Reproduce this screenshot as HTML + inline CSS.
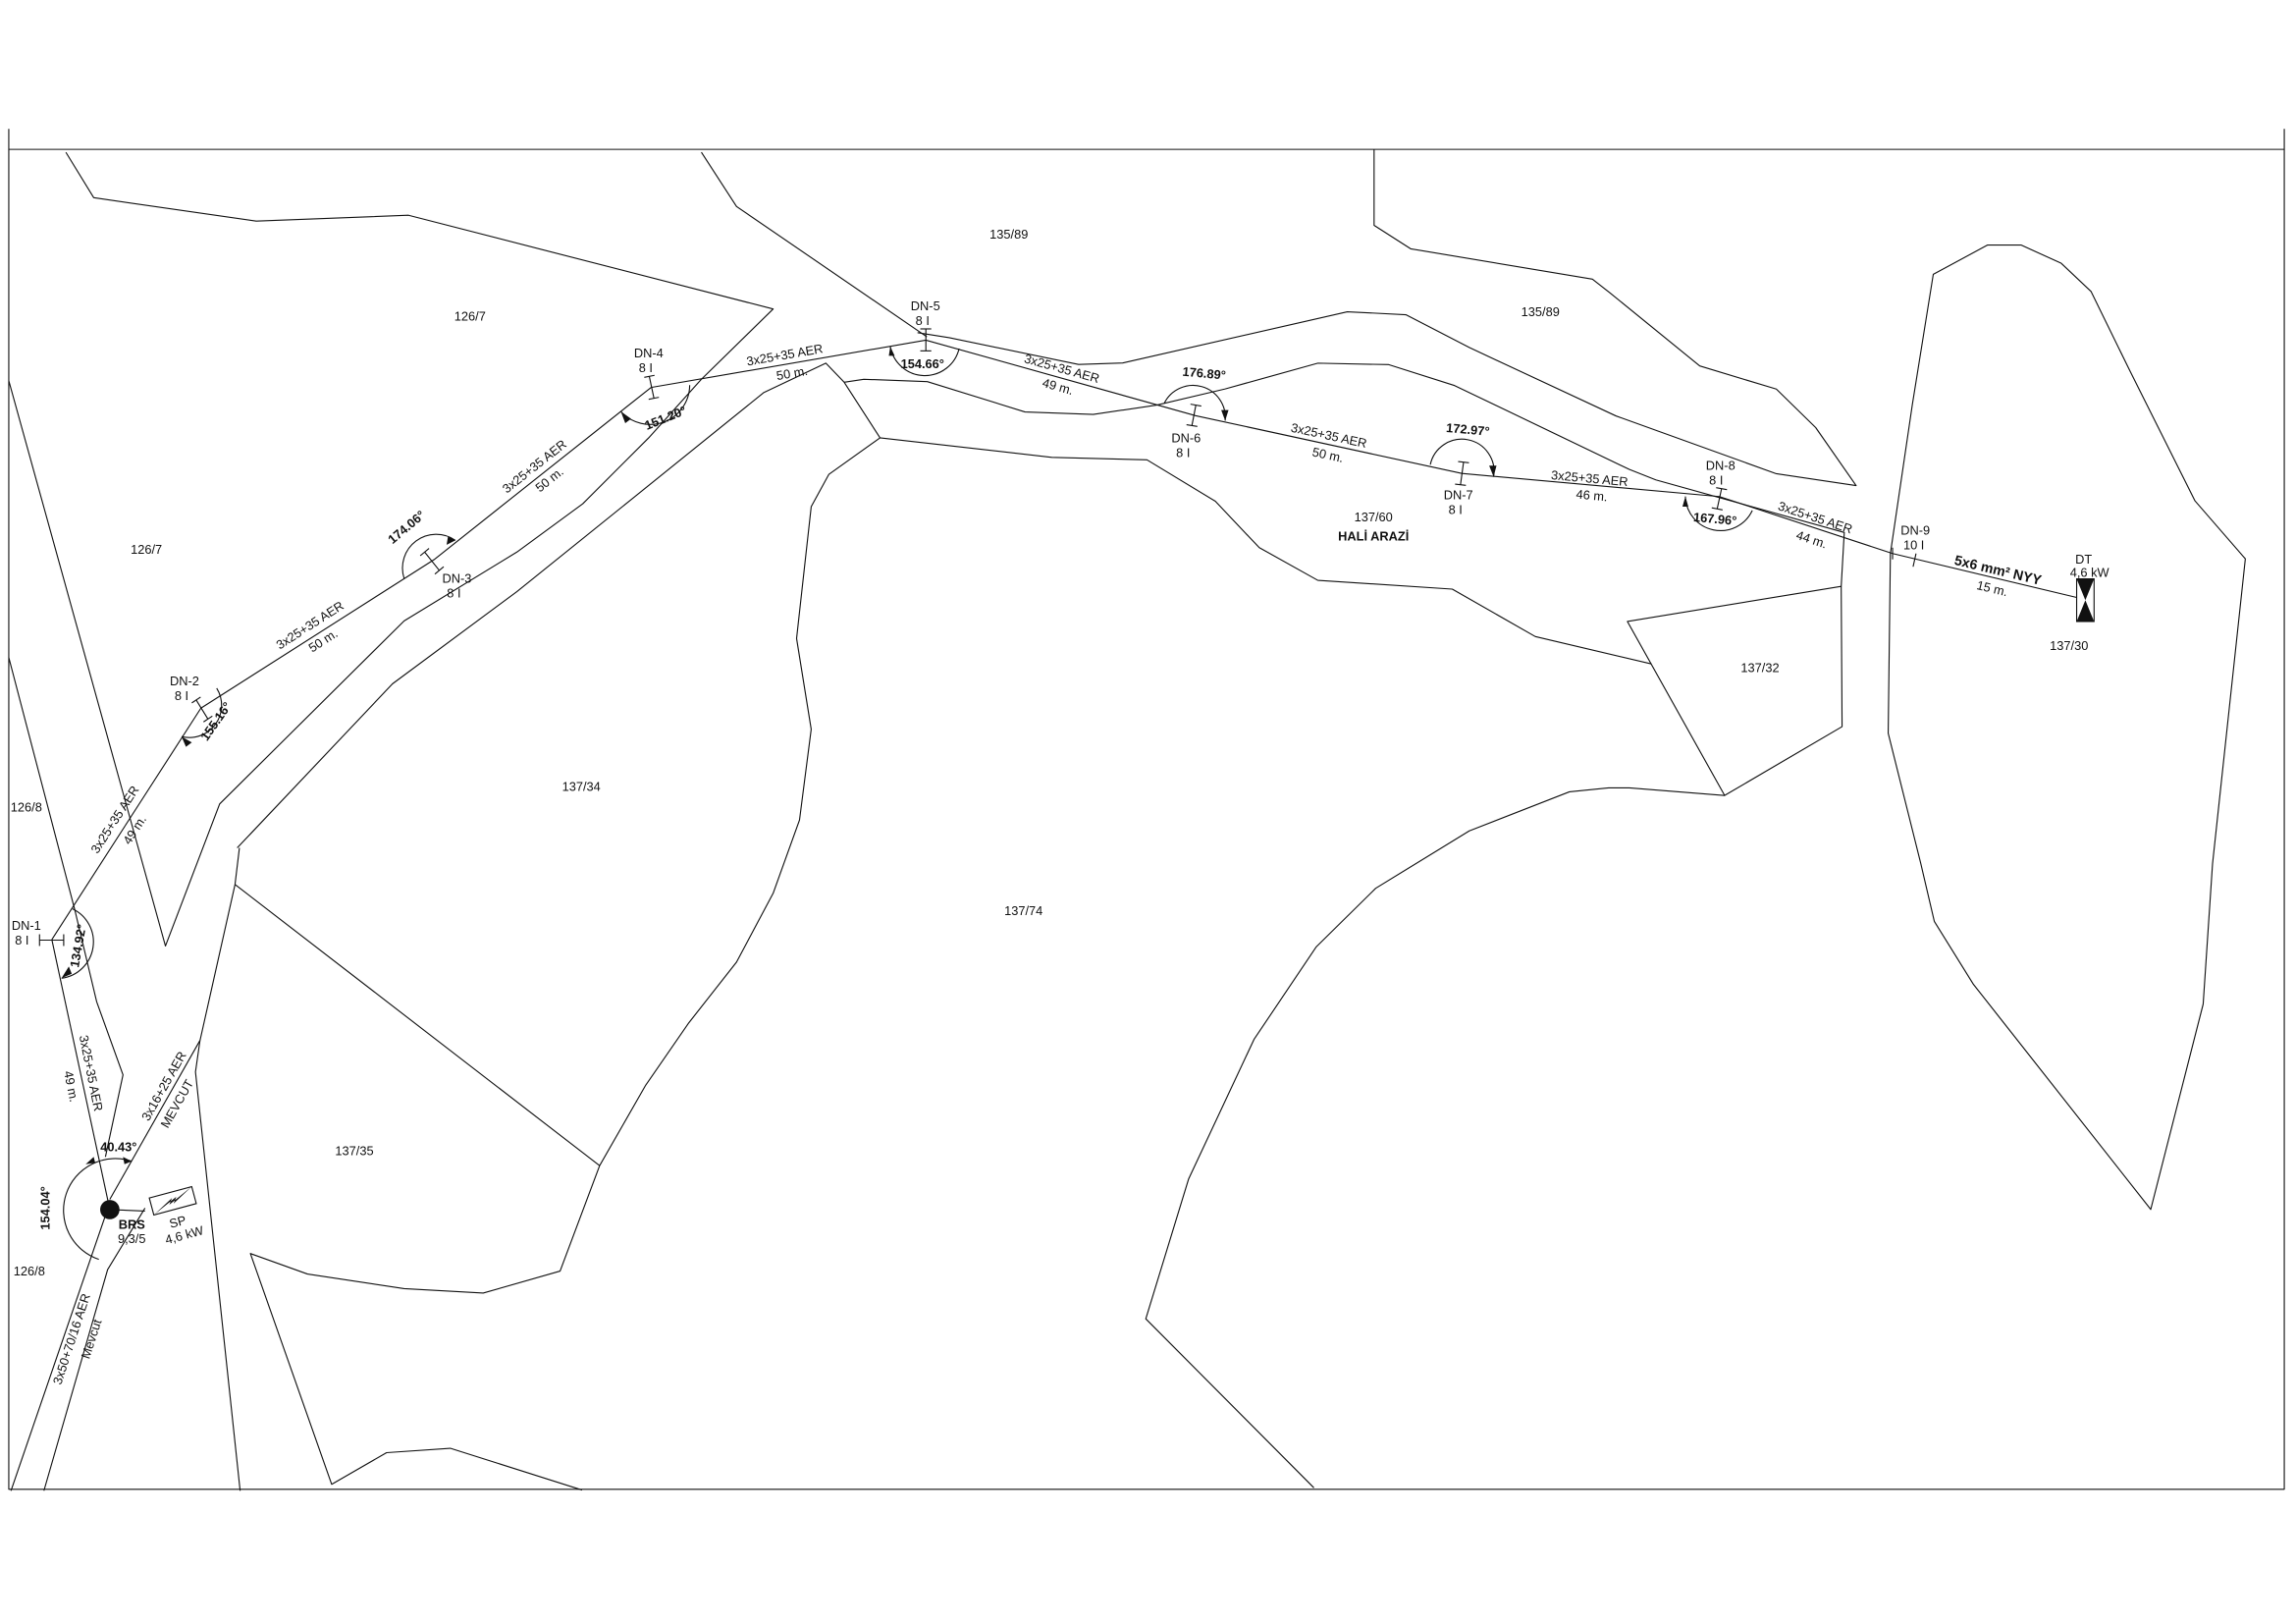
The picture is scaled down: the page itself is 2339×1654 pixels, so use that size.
<!DOCTYPE html>
<html><head><meta charset="utf-8"><style>
html,body{margin:0;padding:0;background:#fff;}
svg{display:block;}
text{font-family:"Liberation Sans",sans-serif;font-size:8.6px;fill:#111;}
.b{font-weight:bold;}
</style></head><body>
<svg width="2339" height="1654" viewBox="0 0 1568 1109" preserveAspectRatio="none" xmlns="http://www.w3.org/2000/svg">
<rect x="0" y="0" width="1568" height="1109" fill="#fff"/>
<g fill="none" stroke="#111" stroke-width="0.75" stroke-linejoin="round">
<!-- frame -->
<rect x="6" y="102" width="1554" height="915"/>
<line x1="6" y1="88" x2="6" y2="102"/><line x1="1560" y1="88" x2="1560" y2="102"/>
<!-- parcels -->
<polyline points="45,104 64,135 175,151 279,147 528,211 479,259 443,299 398,344 353,377 276,424 150,549 113,646 6,260"/>
<polyline points="6,449 51,621 66,684 84,734 72,790"/>
<polyline points="479,104 503,141 633,230"/>
<polyline points="163.5,579 160.5,604 136.5,711 133.5,732 164,1018"/>
<polyline points="162,579 268,467 353,404 430,342 521.7,268 564,248 576.5,261 601,299"/>
<polyline points="576.5,261 589.9,259 633.3,260.6 700,281.3 746.6,283 790,276.6 836.7,265.6 900,248 948.4,249 993.4,263.3 1112.8,320.6 1130.8,327.7 1259.5,363.6 1257.4,400.4 1258,496.2 1177.8,543.2 1111.4,424.4 1257.4,400.4"/>
<polyline points="626.6,227.2 648.3,230.6 736.6,248.9 766.7,247.9 920.1,212.9 960.1,214.9 1003.4,237.3 1103.5,284 1213.1,323.5 1267.6,331.6 1240,292 1213.1,265.7 1160.8,249.9 1099.4,199.9 1087.5,190.6 963.4,169.9 938.4,153.9 938.4,102"/>
<polyline points="601,299 718.3,312.3 783.3,314 830,342.3 860,374 900,396.3 991.8,402.3 1048.5,434.7 1127.8,453.4"/>
<polyline points="601,299 566,324 554,346 544,436 554,498 546,560 528,610 503,657 470,699 441,741 409.5,796 382.5,868 330,883 276,880 210,870 171,856 226.5,1013.6 264,992 307.5,989 397.5,1017.5"/>
<line x1="160.5" y1="604" x2="409.5" y2="796"/>
<polyline points="1177.8,543.2 1112.8,538 1098.5,538 1071.8,540.7 1003.4,567.4 939.5,606.6 898.8,646.7 856.4,709.8 811.7,805.2 782.5,900.6 897.3,1016"/>
<polygon points="1289.5,500.7 1291,378 1306,276.2 1320.3,187.3 1357.4,167.3 1380.2,167.3 1407.7,179.8 1428,199 1454.1,252.3 1499,342 1533.4,381.6 1511,589.9 1504.6,685.7 1468.8,825.9 1347.5,671.9 1321,629.2 1311.8,589.9"/>
<!-- lower left lines -->
<line x1="72" y1="830" x2="7.5" y2="1018"/>
<polyline points="30,1018 73.5,867 99,825"/>
<line x1="75" y1="826" x2="99" y2="827"/>
<!-- cables -->
<polyline points="35.4,641.6 137.2,483.6 296.4,382.2 444.6,264.6 632.3,232.3 816.7,283.9 998.4,323.3 1174.2,339.1 1292.5,378 1418.2,408"/>
<line x1="35.4" y1="641.6" x2="75" y2="826"/>
<line x1="75" y1="819" x2="136.5" y2="710.6"/>
<!-- poles -->
<line x1="27" y1="642" x2="43.5" y2="642"/><line x1="27" y1="638" x2="27" y2="646"/><line x1="43.5" y1="638" x2="43.5" y2="646"/>
<line x1="134" y1="478" x2="142" y2="491"/><line x1="131" y1="480" x2="137" y2="476"/><line x1="139" y1="493" x2="145" y2="489"/>
<line x1="290" y1="377" x2="300" y2="389.5"/><line x1="287" y1="379.5" x2="293" y2="374.5"/><line x1="297" y1="392" x2="303" y2="387"/>
<line x1="443.4" y1="257" x2="446.6" y2="272"/><line x1="440" y1="257.7" x2="447" y2="256.3"/><line x1="443" y1="272.7" x2="450" y2="271.3"/>
<line x1="632.3" y1="224.6" x2="632.3" y2="239.6"/><line x1="628.5" y1="224.6" x2="636" y2="224.6"/><line x1="628.5" y1="239.6" x2="636" y2="239.6"/>
<line x1="816.7" y1="276.6" x2="814" y2="290.6"/><line x1="813" y1="276" x2="820.4" y2="277.3"/><line x1="810.3" y1="290" x2="817.7" y2="291.2"/>
<line x1="999.5" y1="315.6" x2="997.4" y2="331"/><line x1="995.8" y1="315.2" x2="1003.2" y2="316"/><line x1="993.7" y1="330.6" x2="1001.1" y2="331.4"/>
<line x1="1175.7" y1="333.7" x2="1172.7" y2="347.5"/><line x1="1172" y1="333" x2="1179.4" y2="334.4"/><line x1="1169" y1="346.8" x2="1176.4" y2="348.2"/>
<line x1="1308.5" y1="378" x2="1306.5" y2="387"/><line x1="1292.5" y1="374" x2="1292.5" y2="382"/>
<!-- arcs -->
<path d="M49.5,620.6 A25,25 0 0,1 42,668"/>
<path d="M148,470 A22,22 0 0,1 124,503"/>
<path d="M276,395 A23,23 0 0,1 311,369"/>
<path d="M424,281 A27,27 0 0,0 471,263"/>
<path d="M608,236.6 A24,24 0 0,0 655,238"/>
<path d="M795,275.6 A22,22 0 0,1 836.7,287.3"/>
<path d="M976.8,317.3 A22,22 0 0,1 1020,325.6"/>
<path d="M1151,339 A24,24 0 0,0 1196.7,348.6"/>
<path d="M67.5,860 A35,35 0 1,1 90,793"/>
</g>
<!-- arrowheads -->
<g fill="#111">
<polygon points="42,668 47,660 49,665"/>
<polygon points="124,503 131,507 127,510"/>
<polygon points="311,369 305,372 306,366"/>
<polygon points="424,281 431,286 427,289"/>
<polygon points="608,236.6 611,243 607,243"/>
<polygon points="836.7,287.3 834,280 839,280"/>
<polygon points="1020,325.6 1017,318 1022,318"/>
<polygon points="1151,339 1149,346 1153,346"/>
<polygon points="58.5,795 64,790 65,794"/>
<polygon points="90,793 84,790 85,795"/>
<circle cx="75" cy="826" r="6.6"/>
<!-- DT -->
<rect x="1418.2" y="395.3" width="11.9" height="29.1" fill="#fff" stroke="#111" stroke-width="0.75"/>
<polygon points="1418.2,395.3 1430.1,395.3 1418.2,424.4 1430.1,424.4"/>
<!-- SP -->
<g transform="translate(118,820) rotate(-15)">
<rect x="-15" y="-6" width="30" height="12" fill="#fff" stroke="#111" stroke-width="0.75"/>
<polygon points="-15,6 3,-2 0,2 15,-6 -3,2 0,-2"/>
</g>
</g>
<!-- parcel labels -->
<g text-anchor="middle">
<text x="689" y="163">135/89</text>
<text x="321" y="219">126/7</text>
<text x="1052" y="216">135/89</text>
<text x="100" y="378">126/7</text>
<text x="938" y="356">137/60</text>
<text x="938" y="369" class="b">HALİ ARAZİ</text>
<text x="1202" y="459">137/32</text>
<text x="1413" y="444">137/30</text>
<text x="397" y="540">137/34</text>
<text x="18" y="554">126/8</text>
<text x="699" y="625">137/74</text>
<text x="242" y="789">137/35</text>
<text x="20" y="871">126/8</text>
<!-- DN labels -->
<text x="18" y="635">DN-1</text><text x="15" y="645">8 I</text>
<text x="126" y="468">DN-2</text><text x="124" y="478">8 I</text>
<text x="312" y="398">DN-3</text><text x="310" y="408">8 I</text>
<text x="443" y="244">DN-4</text><text x="441" y="254">8 I</text>
<text x="632" y="212">DN-5</text><text x="630" y="222">8 I</text>
<text x="810" y="302">DN-6</text><text x="808" y="312">8 I</text>
<text x="996" y="341">DN-7</text><text x="994" y="351">8 I</text>
<text x="1175" y="321">DN-8</text><text x="1172" y="331">8 I</text>
<text x="1308" y="365">DN-9</text><text x="1307" y="375">10 I</text>
<text x="1423" y="385">DT</text><text x="1427" y="394">4,6 kW</text>
<text x="90" y="839" class="b">BRS</text><text x="90" y="849">9,3/5</text>
</g>
<!-- rotated labels -->
<g text-anchor="middle" dominant-baseline="middle">
<text transform="translate(79,560) rotate(-57.2)">3x25+35 AER</text>
<text transform="translate(92.5,567) rotate(-57.2)">49 m.</text>
<text transform="translate(212,427.5) rotate(-32.7)">3x25+35 AER</text>
<text transform="translate(221,438) rotate(-32.7)">50 m.</text>
<text transform="translate(365.4,319) rotate(-38.3)">3x25+35 AER</text>
<text transform="translate(375.6,328) rotate(-38.3)">50 m.</text>
<text transform="translate(536,243) rotate(-9.8)">3x25+35 AER</text>
<text transform="translate(541,255.5) rotate(-9.8)">50 m.</text>
<text transform="translate(725,252.3) rotate(15.6)">3x25+35 AER</text>
<text transform="translate(722.3,264.6) rotate(15.6)">49 m.</text>
<text transform="translate(907.4,298) rotate(12.2)">3x25+35 AER</text>
<text transform="translate(906.7,311.3) rotate(12.2)">50 m.</text>
<text transform="translate(1085.5,327.3) rotate(5.2)">3x25+35 AER</text>
<text transform="translate(1087,339) rotate(5.2)">46 m.</text>
<text transform="translate(1239.5,354) rotate(18.2)">3x25+35 AER</text>
<text transform="translate(1237,369) rotate(18.2)">44 m.</text>
<text class="b" transform="translate(1364.3,390) rotate(13.4)" style="font-size:9.5px">5x6 mm² NYY</text>
<text transform="translate(1360.4,402.5) rotate(13.4)">15 m.</text>
<text transform="translate(61.5,733) rotate(78.7)">3x25+35 AER</text>
<text transform="translate(48,742) rotate(78.7)">49 m.</text>
<text transform="translate(112.5,742) rotate(-60.4)">3x16+25 AER</text>
<text transform="translate(121.5,754) rotate(-60.4)">MEVCUT</text>
<text transform="translate(49.5,914.6) rotate(-72)">3x50+70/16 AER</text>
<text transform="translate(63,914.6) rotate(-72)">Mevcut</text>
<text transform="translate(121.5,835) rotate(-15)">SP</text>
<text transform="translate(126,844) rotate(-15)">4,6 kW</text>
<text class="b" transform="translate(54,646) rotate(-80)">134.92°</text>
<text class="b" transform="translate(31.5,825) rotate(-90)">154.04°</text>
<text class="b" transform="translate(81,784)">40.43°</text>
<text class="b" transform="translate(148,493) rotate(-55)">155.16°</text>
<text class="b" transform="translate(278,360.5) rotate(-40)">174.06°</text>
<text class="b" transform="translate(454.7,286) rotate(-22)">151.20°</text>
<text class="b" transform="translate(630,249)">154.66°</text>
<text class="b" transform="translate(822.3,255.6) rotate(5)">176.89°</text>
<text class="b" transform="translate(1002.4,294) rotate(5)">172.97°</text>
<text class="b" transform="translate(1171.2,355) rotate(5)">167.96°</text>
</g>
</svg>
</body></html>
